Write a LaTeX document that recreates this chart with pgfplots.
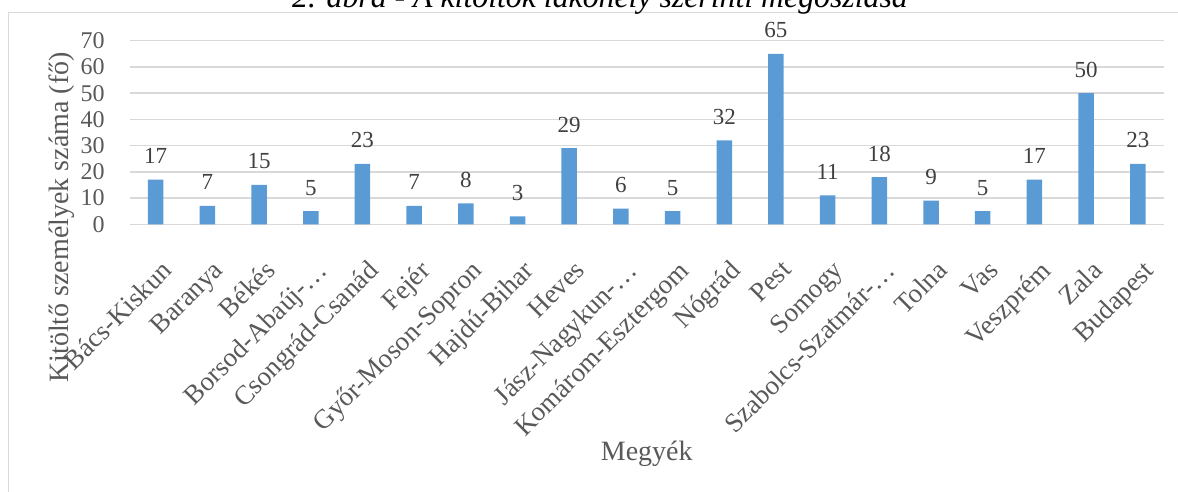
\documentclass[border=0pt]{standalone}
\usepackage{fontspec}
\setmainfont{Liberation Serif}
\usepackage{pgfplots}
\pgfplotsset{compat=1.18}
\definecolor{barblue}{HTML}{5B9BD5}
\definecolor{gridgray}{HTML}{D9D9D9}
\definecolor{txtgray}{HTML}{595959}
\definecolor{lblgray}{HTML}{404040}
\begin{document}
\begin{tikzpicture}
\path[use as bounding box] (0,0) rectangle (589pt,246pt);
% chart frame
\draw[gridgray, line width=0.7pt] (4.15pt,-5pt) -- (4.15pt,239.65pt) -- (600pt,239.65pt);
% title (cropped)
\node[anchor=base, font=\fontsize{15.9pt}{18pt}\selectfont\itshape, inner sep=0pt] at (300pt,242pt) {2. ábra - A kitöltők lakóhely szerinti megoszlása};
\begin{axis}[
  at={(64.95pt,133.85pt)}, anchor=south west,
  scale only axis,
  width=516.85pt, height=91.8pt,
  xmin=-0.5, xmax=19.5,
  ymin=0, ymax=70,
  ytick={0,10,...,70},
  xtick={0,...,19},
  xticklabels={Bács-Kiskun,Baranya,Békés,Borsod-Abaúj-…,Csongrád-Csanád,Fejér,Győr-Moson-Sopron,Hajdú-Bihar,Heves,Jász-Nagykun-…,Komárom-Esztergom,Nógrád,Pest,Somogy,Szabolcs-Szatmár-…,Tolna,Vas,Veszprém,Zala,Budapest},
  axis line style={draw=none},
  tick style={draw=none},
  ymajorgrids,
  grid style={gridgray, line width=0.75pt},
  /pgf/number format/assume math mode=true,
  yticklabel style={font=\fontsize{12pt}{14pt}\selectfont, text=txtgray, inner sep=0pt, anchor=east},
  yticklabel shift=12.5pt,
  xticklabel style={font=\fontsize{13.5pt}{15pt}\selectfont, text=txtgray, inner sep=0pt, rotate=45, anchor=north east, xshift=3pt},
  xticklabel shift=15pt,
  ylabel={Kitöltő személyek száma (fő)},
  ylabel style={font=\fontsize{14pt}{16pt}\selectfont, text=txtgray, at={(axis description cs:-0.066,0.037)}, anchor=center, inner sep=0pt},
  xlabel={Megyék},
  xlabel style={font=\fontsize{14pt}{16pt}\selectfont, text=txtgray, at={(axis description cs:0.5,-1.284)}, anchor=base, inner sep=0pt},
  ybar,
  bar width=7.75pt,
  nodes near coords,
  every node near coord/.append style={font=\fontsize{11.5pt}{13pt}\selectfont, text=lblgray, anchor=base, yshift=8pt, inner sep=0pt},
  clip=false,
]
\addplot[fill=barblue, draw=none] coordinates {
(0,17) (1,7) (2,15) (3,5) (4,23) (5,7) (6,8) (7,3) (8,29) (9,6)
(10,5) (11,32) (12,65) (13,11) (14,18) (15,9) (16,5) (17,17) (18,50) (19,23)
};
\end{axis}
\end{tikzpicture}
\end{document}
